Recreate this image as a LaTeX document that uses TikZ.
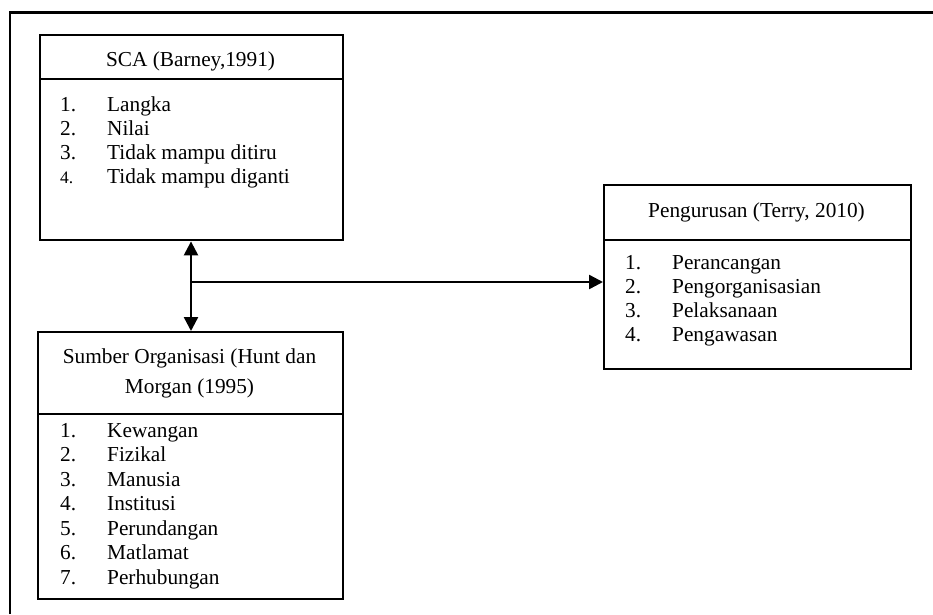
\documentclass[tikz,border=0pt]{standalone}
\usepackage{fontspec}
\setmainfont{Liberation Serif}
\usetikzlibrary{arrows.meta}
\tikzset{
  frame/.style={line width=2.6pt},
  box/.style={draw, line width=2.4pt, rectangle, inner sep=0pt, anchor=north west},
  divider/.style={line width=2.4pt},
  title/.style={font=\fontsize{21.3}{30}\selectfont, align=center, inner sep=0pt},
  item/.style={font=\fontsize{21.3}{24}\selectfont, anchor=base west, inner sep=0pt},
  arr/.style={line width=2.4pt, -{Triangle[length=14pt,width=14pt]}},
  darr/.style={line width=2.4pt, {Triangle[length=14pt,width=14pt]}-{Triangle[length=14pt,width=14pt]}},
}
\newcommand{\numcol}[1]{\makebox[47pt][l]{#1}}
\begin{document}
\begin{tikzpicture}[x=1pt,y=-1pt]
\useasboundingbox (0,0) rectangle (933,614);
% outer open frame
\coordinate (fl) at (10,614);
\coordinate (ftl) at (10,12.5);
\coordinate (fr) at (935,12.5);
\draw[frame] (fl) -- (ftl) -- (fr);

% SCA box
\node[box, minimum width=303pt, minimum height=205pt] (sca) at (39,34) {};
\draw[divider] (39,79) -- (342,79);
\node[title] (scat) at (190.5,61) {SCA (Barney,1991)};
\node[item] (s1) at (60,111) {\numcol{1.}Langka};
\node[item] (s2) at (60,135.3) {\numcol{2.}Nilai};
\node[item] (s3) at (60,159.6) {\numcol{3.}Tidak mampu ditiru};
\node[item] (s4) at (60,183.9) {\numcol{{\fontsize{17.5}{20}\selectfont 4.}}Tidak mampu diganti};

% Sumber box
\node[box, minimum width=305pt, minimum height=267pt] (sumber) at (37,331) {};
\draw[divider] (37,414) -- (342,414);
\node[title] (sumt) at (189.5,373) {Sumber Organisasi (Hunt dan\\Morgan (1995)};
\node[item] (m1) at (60,437) {\numcol{1.}Kewangan};
\node[item] (m2) at (60,461.5) {\numcol{2.}Fizikal};
\node[item] (m3) at (60,486) {\numcol{3.}Manusia};
\node[item] (m4) at (60,510.5) {\numcol{4.}Institusi};
\node[item] (m5) at (60,535) {\numcol{5.}Perundangan};
\node[item] (m6) at (60,559.5) {\numcol{6.}Matlamat};
\node[item] (m7) at (60,584) {\numcol{7.}Perhubungan};

% Pengurusan box
\node[box, minimum width=307pt, minimum height=184pt] (peng) at (603,184) {};
\draw[divider] (603,240) -- (910,240);
\node[title] (pengt) at (756.5,212) {Pengurusan (Terry, 2010)};
\node[item] (p1) at (625,269) {\numcol{1.}Perancangan};
\node[item] (p2) at (625,293.3) {\numcol{2.}Pengorganisasian};
\node[item] (p3) at (625,317.6) {\numcol{3.}Pelaksanaan};
\node[item] (p4) at (625,341.9) {\numcol{4.}Pengawasan};

% connectors
\coordinate (j) at (191,282);
\draw[darr] (sca.south -| j) -- (sumber.north -| j);
\draw[arr] (j) -- (peng.west |- j);
\end{tikzpicture}
\end{document}
